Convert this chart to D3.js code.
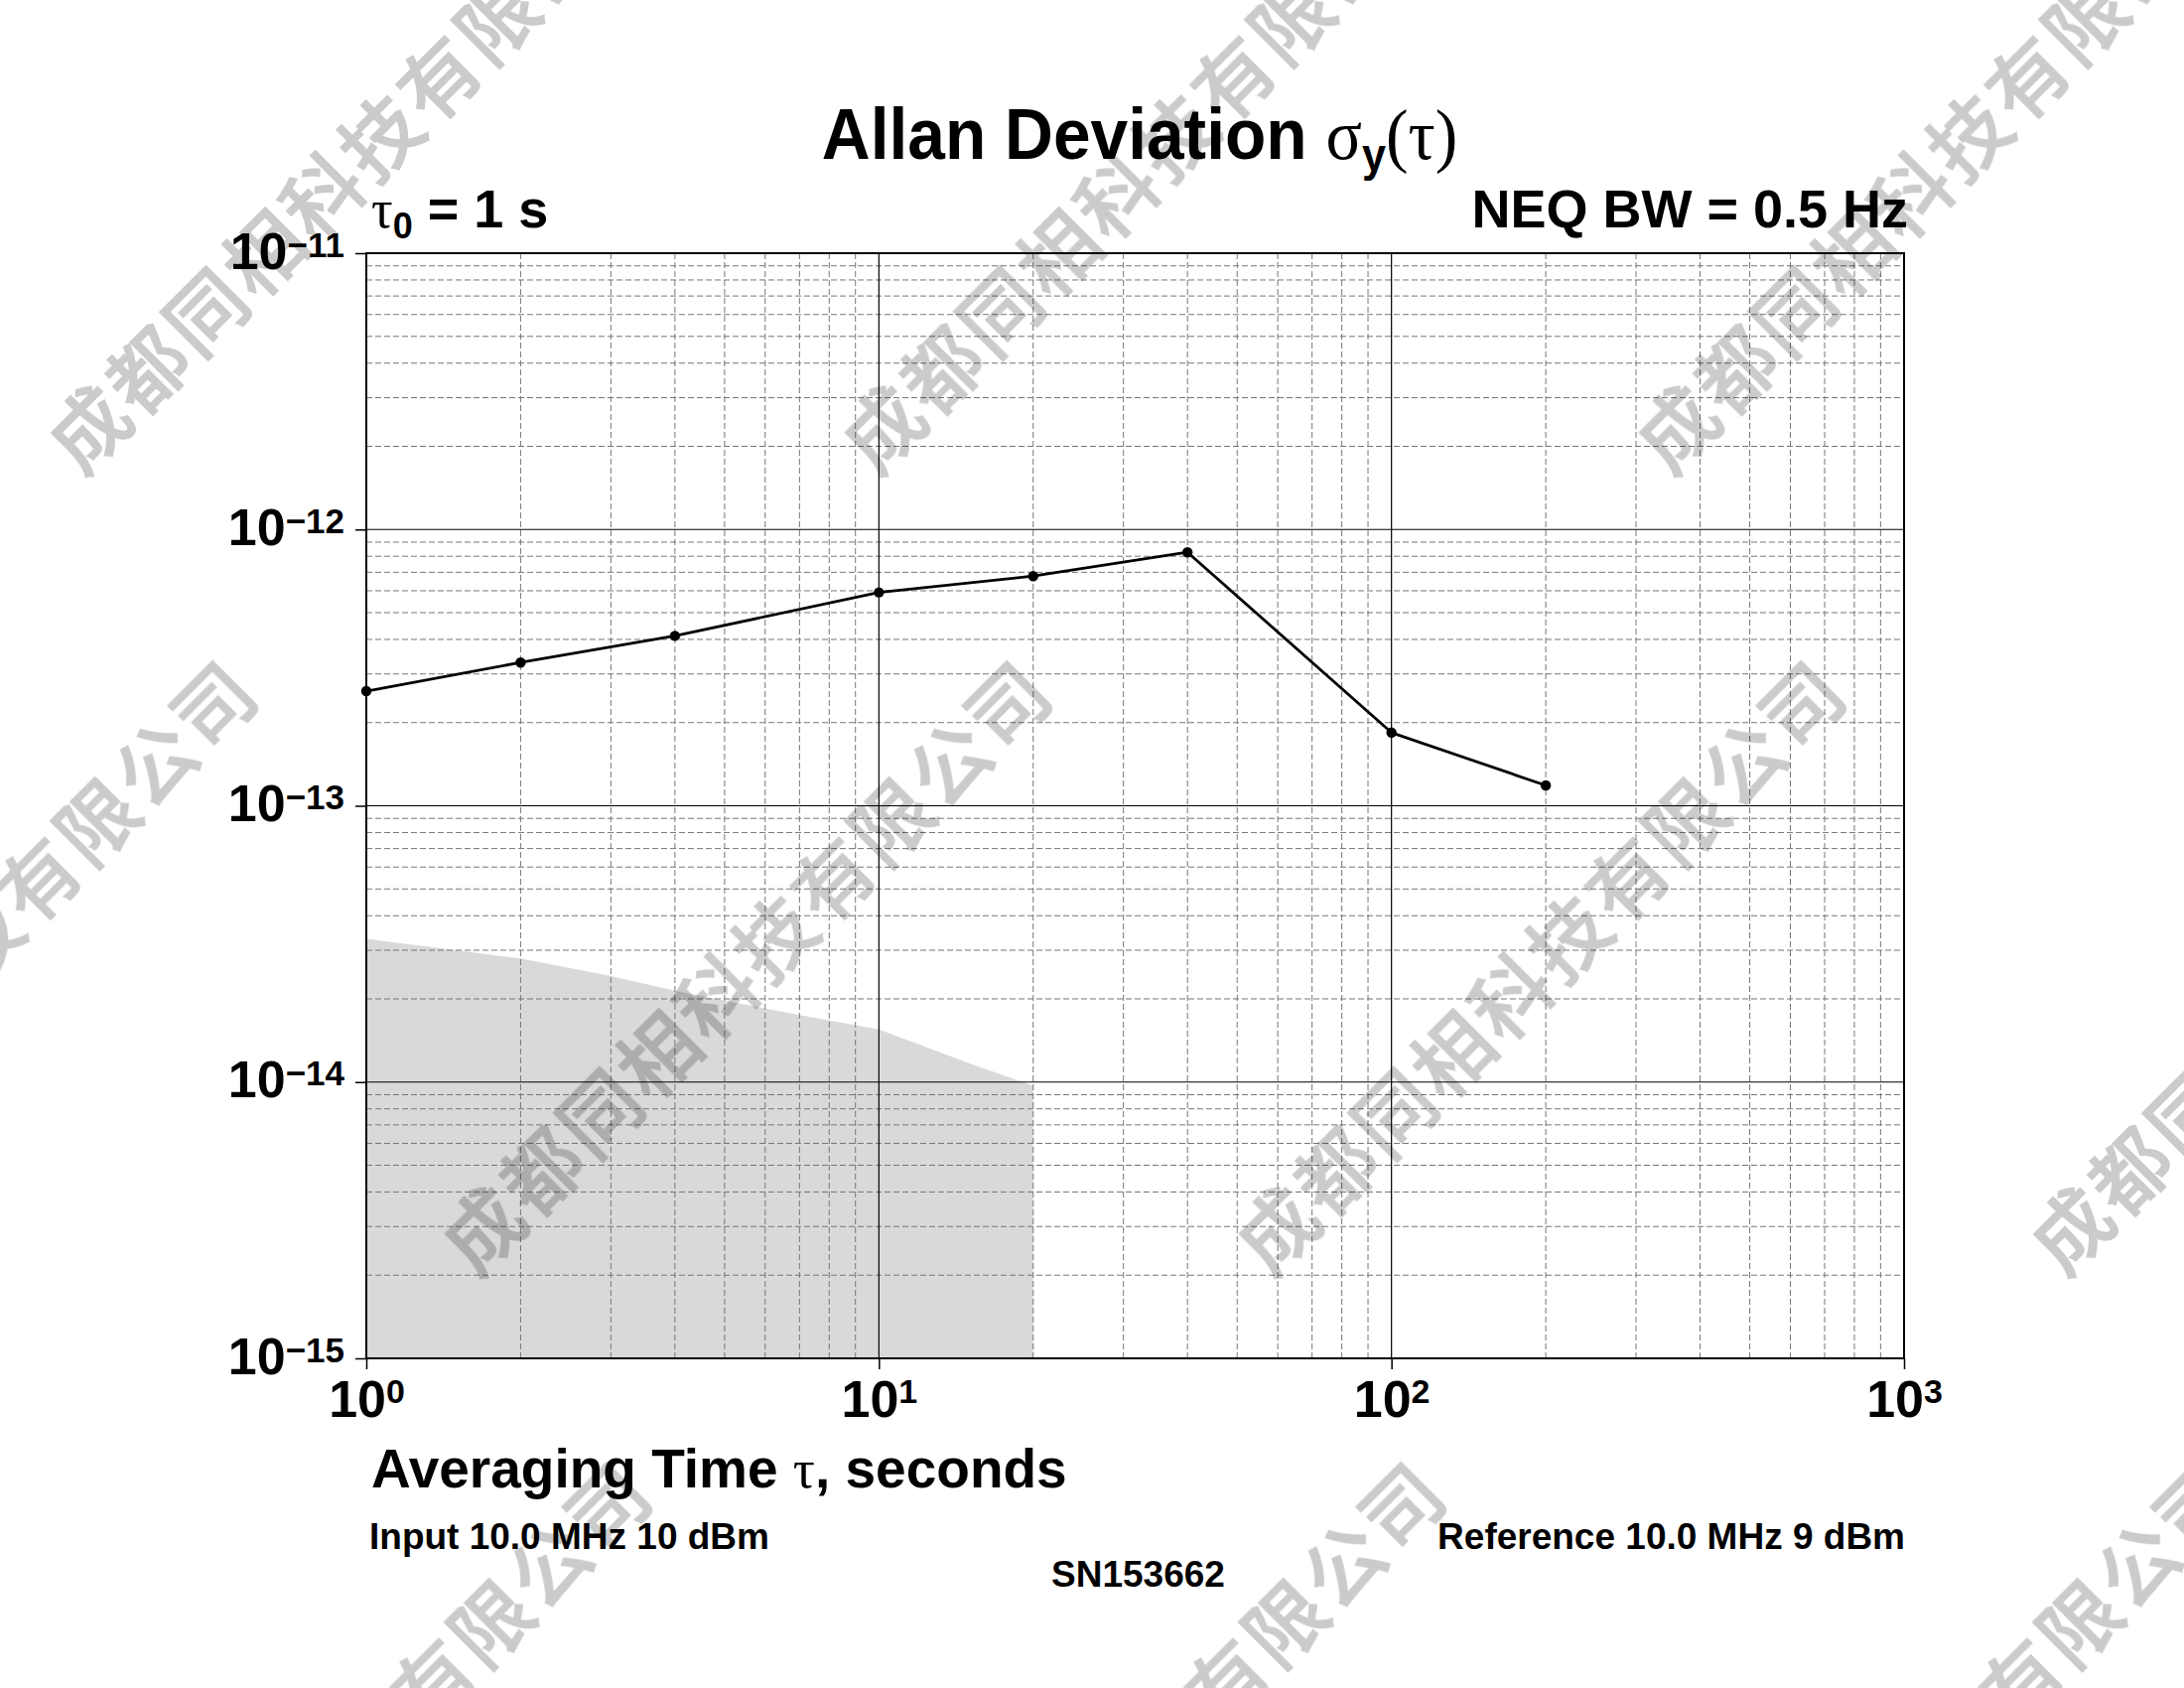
<!DOCTYPE html>
<html><head><meta charset="utf-8">
<script src="https://cdn.jsdelivr.net/npm/d3@7"></script>
<style>body{margin:0;background:#fff}svg{display:block}</style>
</head><body>
<svg id="chart" width="2200" height="1700" xmlns="http://www.w3.org/2000/svg"></svg>
<script>
// ---- data ----
const tau = [1, 2, 4, 10, 20, 40, 100, 200];
const adev = [2.6e-13, 3.3e-13, 4.12e-13, 5.92e-13, 6.78e-13, 8.27e-13, 1.84e-13, 1.185e-13];
const floorTau = [1, 2, 3, 4, 5, 7, 10, 15, 20];
const floorDev = [3.3e-14, 2.8e-14, 2.42e-14, 2.14e-14, 1.97e-14, 1.75e-14, 1.55e-14, 1.17e-14, 9.7e-15];
const xTicks = [1, 10, 100, 1000];
const xTickExp = ["0", "1", "2", "3"];
const yTicks = [1e-15, 1e-14, 1e-13, 1e-12, 1e-11];
const yTickExp = ["\u221215", "\u221214", "\u221213", "\u221212", "\u221211"];
const watermarkText = "成都同相科技有限公司";

const SANS = "'Liberation Sans', Arial, Helvetica, sans-serif";
const SERIF = "'Liberation Serif', 'Times New Roman', serif";

const svg = d3.select("#chart");
svg.append("rect").attr("width", 2200).attr("height", 1700).attr("fill", "#fff");

const x = d3.scaleLog().domain([1, 1000]).range([369, 1918]);
const y = d3.scaleLog().domain([1e-15, 1e-11]).range([1368, 255]);
const [x0, x1] = x.range();
const [yb, yt] = y.range();

const isDecade = v => Math.abs(Math.log10(v) - Math.round(Math.log10(v))) < 1e-6;

// noise floor
svg.append("path")
  .datum(floorTau.map((t, i) => [t, floorDev[i]]))
  .attr("fill", "#d9d9d9")
  .attr("d", d3.area().x(d => x(d[0])).y0(yb).y1(d => y(d[1])));

// minor grid
const minor = svg.append("g").attr("stroke", "#767676").attr("stroke-width", 1).attr("stroke-dasharray", "6,3");
minor.selectAll("line.vx").data(x.ticks().filter(v => !isDecade(v)))
  .join("line").attr("x1", d => x(d)).attr("x2", d => x(d)).attr("y1", yt).attr("y2", yb);
minor.selectAll("line.hy").data(y.ticks().filter(v => !isDecade(v)))
  .join("line").attr("y1", d => y(d)).attr("y2", d => y(d)).attr("x1", x0).attr("x2", x1);

// major grid
const major = svg.append("g").attr("stroke", "#000").attr("stroke-width", 1.2);
major.selectAll("line.vx").data(xTicks)
  .join("line").attr("x1", d => x(d)).attr("x2", d => x(d)).attr("y1", yt).attr("y2", yb);
major.selectAll("line.hy").data(yTicks)
  .join("line").attr("y1", d => y(d)).attr("y2", d => y(d)).attr("x1", x0).attr("x2", x1);

// frame
svg.append("rect").attr("x", x0).attr("y", yt).attr("width", x1 - x0).attr("height", yb - yt)
  .attr("fill", "none").attr("stroke", "#000").attr("stroke-width", 2);

// axes
const gx = svg.append("g").attr("transform", `translate(0,${yb})`)
  .call(d3.axisBottom(x).tickValues(xTicks).tickSize(11).tickSizeOuter(0).tickFormat(() => ""));
gx.select(".domain").remove();
gx.selectAll(".tick line").attr("stroke", "#000").attr("stroke-width", 1.5);
gx.selectAll(".tick text").each(function (d, i) {
  const t = d3.select(this).text(null)
    .attr("y", 59).attr("dy", null).attr("fill", "#000")
    .attr("font-family", SANS).attr("font-weight", "bold").attr("font-size", 52)
    .attr("text-anchor", "middle");
  t.append("tspan").text("10");
  t.append("tspan").attr("font-size", 34).attr("dy", -14).text(xTickExp[i]);
});

const gy = svg.append("g").attr("transform", `translate(${x0},0)`)
  .call(d3.axisLeft(y).tickValues(yTicks).tickSize(11).tickSizeOuter(0).tickFormat(() => ""));
gy.select(".domain").remove();
gy.selectAll(".tick line").attr("stroke", "#000").attr("stroke-width", 1.5);
gy.selectAll(".tick text").each(function (d, i) {
  const t = d3.select(this).text(null)
    .attr("x", -22).attr("y", 15).attr("dy", null).attr("fill", "#000")
    .attr("font-family", SANS).attr("font-weight", "bold").attr("font-size", 52)
    .attr("text-anchor", "end");
  t.append("tspan").text("10");
  t.append("tspan").attr("font-size", 35).attr("dy", -12).text(yTickExp[i]);
});

// data line + markers
const pts = tau.map((t, i) => [t, adev[i]]);
svg.append("path").datum(pts)
  .attr("fill", "none").attr("stroke", "#000").attr("stroke-width", 2.8)
  .attr("stroke-linejoin", "round")
  .attr("d", d3.line().x(d => x(d[0])).y(d => y(d[1])));
svg.append("g").selectAll("circle").data(pts).join("circle")
  .attr("cx", d => x(d[0])).attr("cy", d => y(d[1])).attr("r", 5.2).attr("fill", "#000");

// texts
const T = svg.append("g").attr("fill", "#000").attr("font-family", SANS).attr("font-weight", "bold");

const title = T.append("text").attr("transform", "translate(1148,160) scale(0.94,1)")
  .attr("font-size", 72).attr("text-anchor", "middle");
title.append("tspan").text("Allan Deviation ");
title.append("tspan").attr("font-family", SERIF).attr("font-weight", "normal").text("σ");
title.append("tspan").attr("font-size", 46).attr("dy", 12).text("y");
title.append("tspan").attr("font-family", SERIF).attr("font-weight", "normal").attr("dy", -12).text("(τ)");

const tz = T.append("text").attr("x", 374).attr("y", 229).attr("font-size", 54);
tz.append("tspan").attr("font-family", SERIF).attr("font-weight", "normal").text("τ");
tz.append("tspan").attr("font-size", 36).attr("dy", 11).text("0");
tz.append("tspan").attr("dy", -11).text(" = 1 s");

T.append("text").attr("x", 1922).attr("y", 229).attr("font-size", 54).attr("text-anchor", "end").text("NEQ BW = 0.5 Hz");

const xl = T.append("text").attr("x", 374).attr("y", 1498).attr("font-size", 55);
xl.append("tspan").text("Averaging Time ");
xl.append("tspan").attr("font-family", SERIF).attr("font-weight", "normal").text("τ");
xl.append("tspan").text(", seconds");

T.append("text").attr("x", 372).attr("y", 1560).attr("font-size", 37).text("Input 10.0 MHz 10 dBm");
T.append("text").attr("x", 1919).attr("y", 1560).attr("font-size", 37).attr("text-anchor", "end").text("Reference 10.0 MHz 9 dBm");
T.append("text").attr("x", 1059).attr("y", 1598).attr("font-size", 37).text("SN153662");

// watermark
const anchors = [];
for (let r = 0; r < 3; r++) for (let c = -2; c < 4; c++) {
  const ax = 87 + 800 * c + 397 * r, ay = 428 + 807 * r;
  if (ax > -800 && ax < 2300) anchors.push([ax, ay]);
}
const wm = svg.append("g").attr("fill", "#cbcbcb").attr("stroke", "#cbcbcb").attr("stroke-width", 1.2)
  .style("mix-blend-mode", "multiply")
  .attr("font-family", "'Noto Sans CJK SC', sans-serif").attr("font-weight", 500).attr("font-size", 79);
wm.selectAll("text").data(anchors).join("text")
  .attr("transform", d => `translate(${d[0]},${d[1]}) rotate(-45)`)
  .attr("x", -40).attr("y", 0).attr("dominant-baseline", "central")
  .attr("letter-spacing", 4)
  .text(watermarkText);
</script>
</body></html>
